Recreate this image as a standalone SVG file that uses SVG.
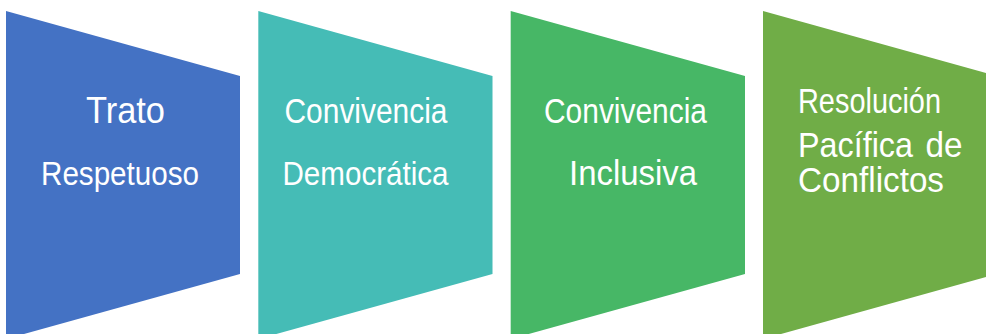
<svg xmlns="http://www.w3.org/2000/svg" width="986" height="334" viewBox="0 0 986 334">
<style>
.t{font-family:"Liberation Sans",Arial,sans-serif;fill:#ffffff;}
</style>
<rect width="986" height="334" fill="#ffffff"/>
<g id="node1">
<polygon points="6,11 240,76 240,274 6,339" fill="#4472C4"/>
<text class="t" x="86" y="123" font-size="36" textLength="79" lengthAdjust="spacingAndGlyphs">Trato</text>
<text class="t" x="41" y="185" font-size="33" textLength="158" lengthAdjust="spacingAndGlyphs">Respetuoso</text>
</g>
<g id="node2">
<polygon points="258.3,11 492.5,76 492.5,274 258.3,339" fill="#45BCB6"/>
<text class="t" x="284.5" y="122.7" font-size="35.5" textLength="163" lengthAdjust="spacingAndGlyphs">Convivencia</text>
<text class="t" x="282.5" y="185" font-size="33" textLength="166" lengthAdjust="spacingAndGlyphs">Democrática</text>
</g>
<g id="node3">
<polygon points="510.7,11 745,76 745,274 510.7,339" fill="#47B766"/>
<text class="t" x="544" y="122.7" font-size="35.5" textLength="163" lengthAdjust="spacingAndGlyphs">Convivencia</text>
<text class="t" x="569" y="185" font-size="34.5" textLength="128" lengthAdjust="spacingAndGlyphs">Inclusiva</text>
</g>
<g id="node4">
<polygon points="763,11 997,76 997,274 763,339" fill="#70AD47"/>
<text class="t" x="798" y="112.7" font-size="35" textLength="143" lengthAdjust="spacingAndGlyphs">Resolución</text>
<text class="t" x="798" y="157" font-size="35" textLength="115" lengthAdjust="spacingAndGlyphs">Pacífica</text>
<text class="t" x="925.5" y="157" font-size="35" textLength="37" lengthAdjust="spacingAndGlyphs">de</text>
<text class="t" x="798" y="192" font-size="35" textLength="146" lengthAdjust="spacingAndGlyphs">Conflictos</text>
</g>
<g id="connectors"></g>
</svg>
